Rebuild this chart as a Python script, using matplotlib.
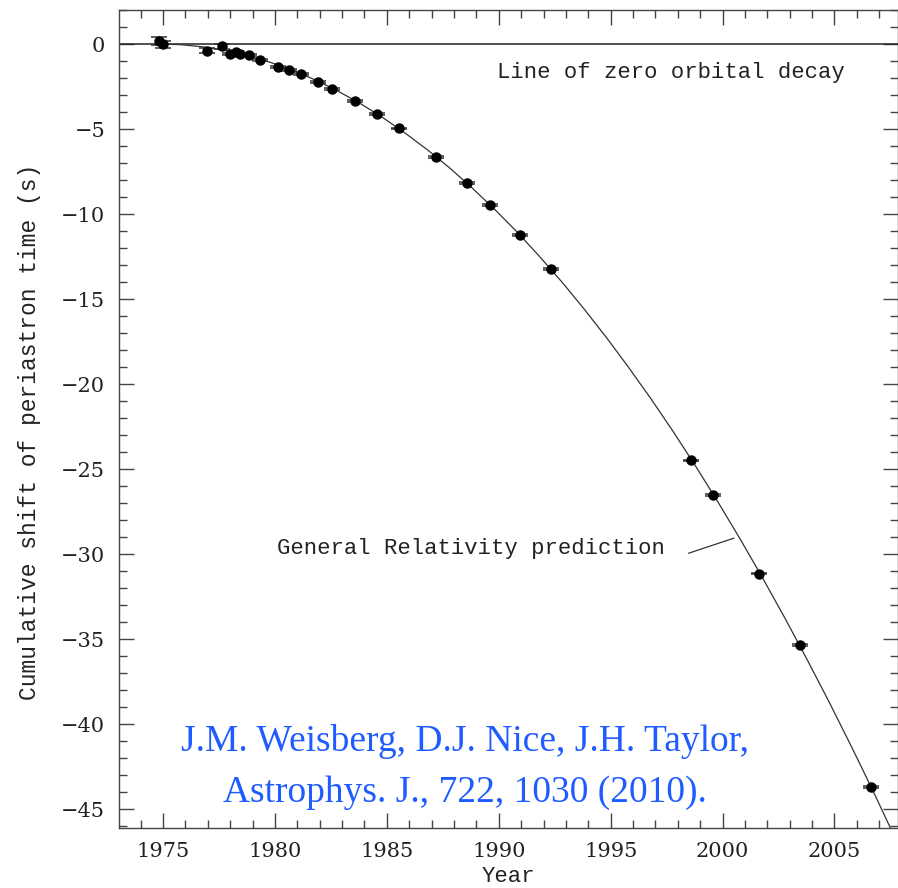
import numpy as np
import matplotlib.pyplot as plt
from matplotlib.ticker import MultipleLocator

years = [1974.82, 1974.99, 1976.97, 1977.63, 1978.00, 1978.27, 1978.45, 1978.86,
         1979.35, 1980.15, 1980.63, 1981.17, 1981.94, 1982.57, 1983.59, 1984.56,
         1985.53, 1987.20, 1988.56, 1989.63, 1990.93, 1992.32, 1998.61, 1999.59,
         2001.65, 2003.47, 2006.63]
shift = [0.18, -0.02, -0.39, -0.12, -0.61, -0.49, -0.61, -0.66,
         -0.92, -1.34, -1.51, -1.76, -2.22, -2.65, -3.34, -4.10,
         -4.96, -6.63, -8.18, -9.47, -11.24, -13.24, -24.49, -26.53,
         -31.14, -35.35, -43.70]
shift_err = [0.25, 0.20, 0.15, 0.15, 0.06, 0.06, 0.06, 0.05,
             0.05, 0.05, 0.05, 0.05, 0.05, 0.05, 0.05, 0.05,
             0.05, 0.05, 0.05, 0.05, 0.05, 0.05, 0.05, 0.05,
             0.05, 0.05, 0.05]

# General Relativity prediction curve
gr_years = [1974.8, 1975.8, 1976.8, 1977.8, 1978.8, 1979.8, 1980.8, 1981.8, 1982.8,
            1983.8, 1984.8, 1985.8, 1986.8, 1987.8, 1988.8, 1989.8, 1990.8, 1991.8,
            1992.8, 1993.8, 1994.8, 1995.8, 1996.8, 1997.8, 1998.8, 1999.8, 2000.8,
            2001.8, 2002.8, 2003.8, 2004.8, 2005.8, 2006.8, 2007.8]
gr_shift = [0.0, -0.04, -0.17, -0.39, -0.69, -1.08, -1.55, -2.11, -2.76,
            -3.49, -4.31, -5.22, -6.21, -7.28, -8.45, -9.70, -11.03, -12.46,
            -13.96, -15.56, -17.24, -19.01, -20.86, -22.80, -24.83, -26.94, -29.14,
            -31.42, -33.79, -36.25, -38.79, -41.42, -44.13, -46.94]

ink = '#222222'
label_font = ['Liberation Mono', 'DejaVu Sans']
plt.rcParams['font.family'] = ['DejaVu Serif']

fig = plt.figure(figsize=(8.98, 8.88), dpi=100)
ax = fig.add_axes([119/898, 1 - 828/888, 779/898, 818/888])

ax.axhline(0, color=ink, lw=1.1)
ax.plot(gr_years, gr_shift, color='#333333', lw=0.9)
ax.errorbar(years, shift, yerr=shift_err, fmt='o', color='black', ms=6.5,
            ecolor='#333333', elinewidth=1.0, capsize=5.5, capthick=1.1)

ax.set_xlim(1973.03, 2007.84)
ax.set_ylim(-46.1, 2.0)

ax.xaxis.set_major_locator(MultipleLocator(5))
ax.xaxis.set_minor_locator(MultipleLocator(1))
ax.yaxis.set_major_locator(MultipleLocator(5))
ax.yaxis.set_minor_locator(MultipleLocator(1))
ax.tick_params(which='both', direction='in', top=True, right=True,
               color='#444444', width=1.0)
ax.tick_params(which='major', length=11, labelsize=15, labelcolor=ink, pad=10)
ax.tick_params(which='minor', length=5.5)
ax.set_yticks(np.arange(-45, 1, 5))
ax.set_yticklabels([f'\u2212{abs(v)}' if v < 0 else '0' for v in np.arange(-45, 1, 5)])
for s in ax.spines.values():
    s.set_color('#444444')
    s.set_linewidth(1.0)

ax.set_xlabel('Year', fontsize=16, color=ink, family=label_font)
ax.xaxis.set_label_coords((508 - 119) / 779, (828 - 866) / 818)
ax.set_ylabel('Cumulative shift of periastron time (s)', fontsize=16.5, color=ink,
              family=label_font)
ax.yaxis.set_label_coords((41 - 119) / 779, (828 - 432) / 818)

ax.text(1989.94, -1.65, 'Line of zero orbital decay', fontsize=16, color=ink,
        family=label_font, ha='left', va='center')
ax.text(1980.1, -29.65, 'General Relativity prediction', fontsize=16, color=ink,
        family=label_font, ha='left', va='center')
ax.plot([1998.49, 2000.5], [-29.94, -29.06], color='#333333', lw=0.9)

ax.text(1988.5, -41.0, 'J.M. Weisberg, D.J. Nice, J.H. Taylor,', fontsize=27,
        family='Liberation Serif', color='#1f5cff', ha='center', va='center')
ax.text(1988.5, -44.0, 'Astrophys. J., 722, 1030 (2010).', fontsize=27,
        family='Liberation Serif', color='#1f5cff', ha='center', va='center')

fig.savefig('out.png', dpi=100)
